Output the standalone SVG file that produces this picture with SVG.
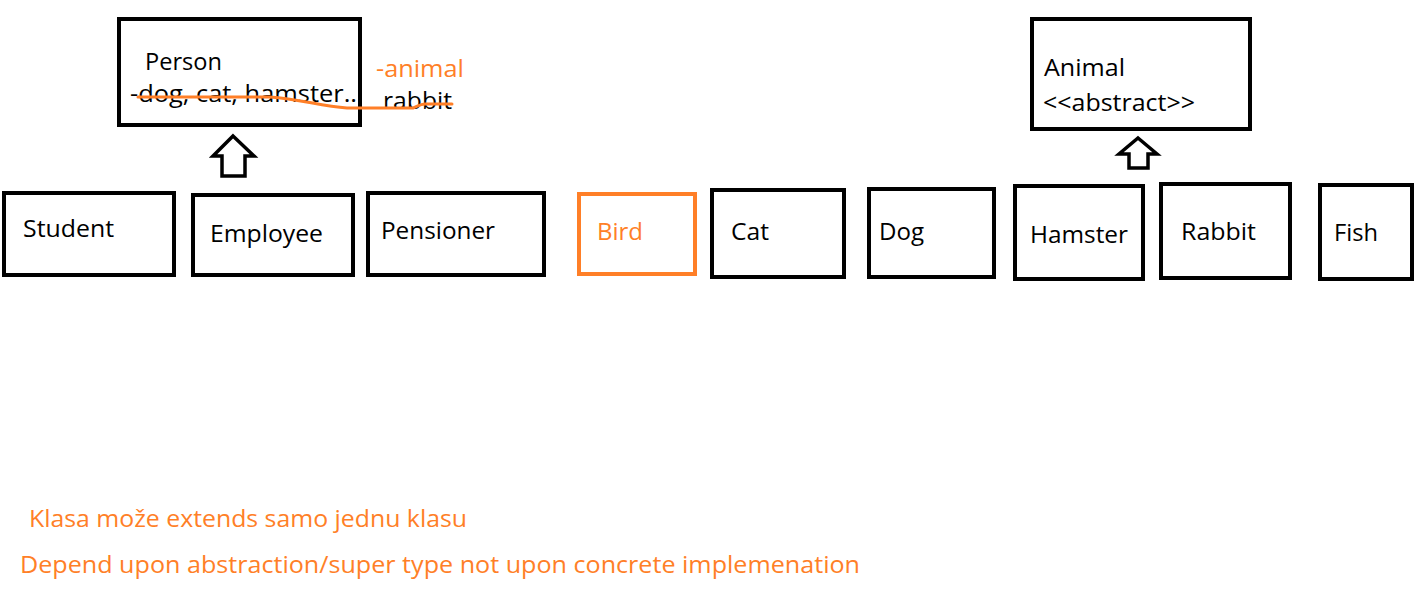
<svg xmlns="http://www.w3.org/2000/svg" width="1415" height="589" viewBox="0 0 1415 589">
<style>
.box{fill:#fff;stroke:#000;stroke-width:4}
.obox{fill:#fff;stroke:#FF7F27;stroke-width:4}
.t{font-family:"Open Sans","Noto Sans","Liberation Sans",sans-serif;font-size:23px;fill:#000}
.o{fill:#FF7F27}
.arr{fill:#fff;stroke:#000;stroke-width:3.5;stroke-linejoin:miter}
.strike{fill:none;stroke:#FF7F27;stroke-width:3;stroke-linecap:round;stroke-linejoin:round}
</style>
<rect width="1415" height="589" fill="#fff"/>
<g id="person">
<rect class="box" x="119" y="19" width="241" height="106"/>
<text class="t" x="145" y="70" textLength="77" lengthAdjust="spacingAndGlyphs">Person</text>
<text class="t" x="130" y="102" textLength="227" lengthAdjust="spacingAndGlyphs">-dog, cat, hamster..</text>
<text class="t o" x="376" y="77" textLength="88" lengthAdjust="spacingAndGlyphs">-animal</text>
<text class="t" x="383" y="109" textLength="69" lengthAdjust="spacingAndGlyphs">rabbit</text>
<path class="strike" d="M138,97 L270,97 C300,99 320,106 347,108 L413,108 C418,106 421,104 425,104 L452,104"/>
</g>
<g id="animal">
<rect class="box" x="1032" y="19" width="218" height="110"/>
<text class="t" x="1044" y="76" textLength="81" lengthAdjust="spacingAndGlyphs">Animal</text>
<text class="t" x="1043" y="111" textLength="152" lengthAdjust="spacingAndGlyphs">&lt;&lt;abstract&gt;&gt;</text>
</g>
<g id="student"><rect class="box" x="4" y="193" width="170" height="82"/><text class="t" x="23" y="237" textLength="91" lengthAdjust="spacingAndGlyphs">Student</text></g>
<g id="employee"><rect class="box" x="193" y="195" width="160" height="80"/><text class="t" x="210" y="242" textLength="113" lengthAdjust="spacingAndGlyphs">Employee</text></g>
<g id="pensioner"><rect class="box" x="368" y="193" width="176" height="82"/><text class="t" x="381" y="239" textLength="114" lengthAdjust="spacingAndGlyphs">Pensioner</text></g>
<g id="bird"><rect class="obox" x="579" y="194" width="116" height="80"/><text class="t o" x="597" y="240" textLength="46" lengthAdjust="spacingAndGlyphs">Bird</text></g>
<g id="cat"><rect class="box" x="712" y="190" width="132" height="87"/><text class="t" x="731" y="240" textLength="38" lengthAdjust="spacingAndGlyphs">Cat</text></g>
<g id="dog"><rect class="box" x="869" y="189" width="125" height="88"/><text class="t" x="879" y="240" textLength="45" lengthAdjust="spacingAndGlyphs">Dog</text></g>
<g id="hamster"><rect class="box" x="1015" y="186" width="128" height="93"/><text class="t" x="1030" y="243" textLength="98" lengthAdjust="spacingAndGlyphs">Hamster</text></g>
<g id="rabbit"><rect class="box" x="1161" y="184" width="129" height="94"/><text class="t" x="1181" y="240" textLength="75" lengthAdjust="spacingAndGlyphs">Rabbit</text></g>
<g id="fish"><rect class="box" x="1320" y="185" width="92" height="94"/><text class="t" x="1334" y="241" textLength="44" lengthAdjust="spacingAndGlyphs">Fish</text></g>
<g id="connectors">
<path class="arr" d="M233,136 L254,156 L245,156 L245,176 L222,176 L222,156 L213,156 Z"/>
<path class="arr" d="M1138,138 L1157,154 L1148,154 L1148,168 L1129,168 L1129,154 L1119,154 Z"/>
</g>
<g id="notes">
<text class="t o" x="29" y="527" textLength="438" lengthAdjust="spacingAndGlyphs">Klasa može extends samo jednu klasu</text>
<text class="t o" x="20" y="573" textLength="840" lengthAdjust="spacingAndGlyphs">Depend upon abstraction/super type not upon concrete implemenation</text>
</g>
</svg>
